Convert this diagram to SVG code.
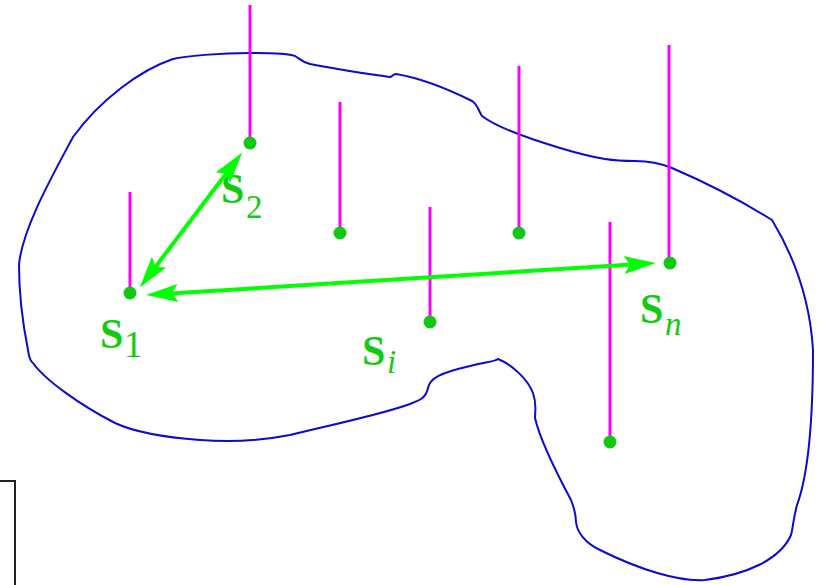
<svg xmlns="http://www.w3.org/2000/svg" width="825" height="585" viewBox="0 0 825 585">
<style>
.region{fill:none;stroke:#0a0ad2;stroke-width:2}
.pole{stroke:#ff00ff;stroke-width:3}
.dot{fill:#10c810}
text{font-family:"Liberation Serif","Times New Roman",serif;fill:#10cc10}
.conn{stroke:#00ff00;stroke-width:4;fill:none;marker-start:url(#ah);marker-end:url(#ah)}
</style>
<defs>
<marker id="ah" markerUnits="userSpaceOnUse" markerWidth="36" markerHeight="22" viewBox="0 0 36 22" refX="22" refY="11" orient="auto-start-reverse">
<path d="M2,2 L34,11 L2,20 L8,11 Z" fill="#00ff00"/>
</marker>
</defs>
<rect width="825" height="585" fill="#ffffff"/>
<path class="region" d="M173,59 C185,56 220,53 250,53 C270,53 288,53 295,56 C300,59 302,62 310,64 C340,70 370,74 390,77 C392,77 393,74 396,74 C420,78 450,90 472,101 C478,105 478,110 482,116 C495,126 520,136 560,148 C600,160 615,161 635,161 C650,161 660,163 672,168 C700,180 740,200 772,220 C795,258 810,300 813,350 C813,400 810,470 797,505 C793,520 793,528 791,535 C780,560 745,575 705,580 C680,582 640,570 600,550 C585,543 577,532 576,522 C576,515 575,510 571,500 C555,470 540,440 535,418 C535,410 537,405 533,393 C528,380 513,365 498,359 C494,362 485,362 470,366 C440,373 430,378 428,388 C426,398 420,400 410,404 C380,415 330,425 290,435 C260,441 230,442 200,440 C160,437 130,430 115,423 C80,405 45,380 33,363 C29,360 29,355 28,350 C22,320 19,290 19,265 C22,230 50,180 73,137 C100,100 140,70 173,59 Z"/>
<path d="M-5,481 L15,481 L15,590" fill="none" stroke="#222222" stroke-width="2"/>
<g id="s1">
<line class="pole" x1="130" y1="192" x2="130" y2="293"/>
<circle class="dot" cx="130" cy="293" r="6.5"/>
<text x="100" y="348" font-weight="bold" font-size="42">S</text>
<text x="124" y="357" font-size="37">1</text>
</g>
<g id="s2">
<line class="pole" x1="250" y1="5" x2="250" y2="143"/>
<circle class="dot" cx="250" cy="143" r="6.5"/>
<text x="221" y="203" font-weight="bold" font-size="42">S</text>
<text x="246" y="218" font-size="33">2</text>
</g>
<g id="p3">
<line class="pole" x1="340" y1="102" x2="340" y2="233"/>
<circle class="dot" cx="340" cy="233" r="6.5"/>
</g>
<g id="si">
<line class="pole" x1="430" y1="207" x2="430" y2="322"/>
<circle class="dot" cx="430" cy="322" r="6.5"/>
<text x="362" y="365" font-weight="bold" font-size="42">S</text>
<text x="387" y="373" font-style="italic" font-size="33">i</text>
</g>
<g id="p5">
<line class="pole" x1="519" y1="66" x2="519" y2="233"/>
<circle class="dot" cx="519" cy="233" r="6.5"/>
</g>
<g id="p6">
<line class="pole" x1="610" y1="222" x2="610" y2="442"/>
<circle class="dot" cx="610" cy="442" r="6.5"/>
</g>
<g id="sn">
<line class="pole" x1="669" y1="45" x2="669" y2="263"/>
<circle class="dot" cx="670" cy="263" r="6.5"/>
<text x="640" y="323" font-weight="bold" font-size="42">S</text>
<text x="665" y="335" font-style="italic" font-size="33">n</text>
</g>
<g id="connectors">
<line class="conn" x1="147" y1="278" x2="235" y2="162"/>
<line class="conn" x1="158" y1="294.3" x2="644" y2="263.7"/>
</g>
</svg>
